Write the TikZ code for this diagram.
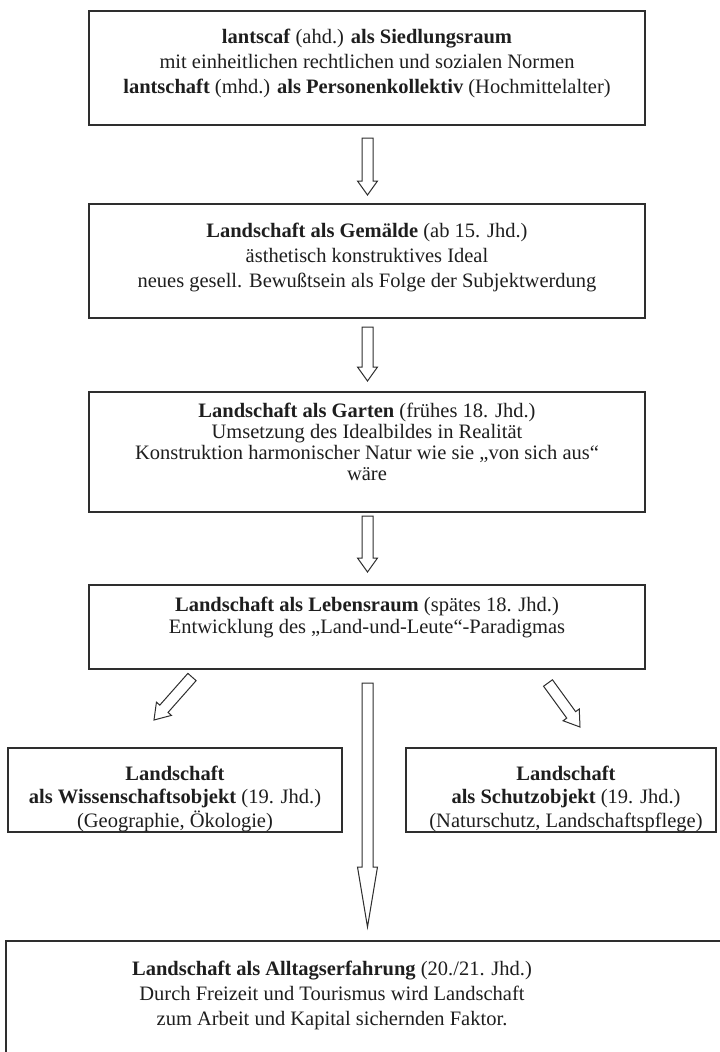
\documentclass[tikz,border=0pt]{standalone}
\usepackage{fontspec}
\setmainfont{Liberation Serif}
\usetikzlibrary{calc}
\definecolor{ink}{HTML}{1E1E1E}
\definecolor{frame}{HTML}{2E2E2E}
\tikzset{
  box/.style={draw=frame, line width=1.6pt, inner sep=0pt},
  txt/.style={align=center, text=ink, inner sep=0pt, font=\fontsize{20.5}{25}\selectfont},
  barrowline/.style={draw=frame, line width=1pt, fill=white, line join=miter},
}
\newcommand{\blockarrow}[4][10pt]{%
  \coordinate (hb) at ($(#3)!#4!(#2)$);
  \draw[barrowline] ($(#2)!5.5pt!90:(#3)$) -- ($(hb)!5.5pt!-90:(#2)$) -- ($(hb)!#1!-90:(#2)$) -- (#3) -- ($(hb)!#1!90:(#2)$) -- ($(hb)!5.5pt!90:(#2)$) -- ($(#2)!5.5pt!-90:(#3)$) -- cycle;
}
\begin{document}
\begin{tikzpicture}[x=1pt,y=-1pt]
\useasboundingbox (0,0) rectangle (720,1052);

% box 1
\node[box, minimum width=556, minimum height=114] (b1) at (367,68) {};
\node[txt] (t1) at (367,63) {\textbf{lantscaf} (ahd.) \textbf{als Siedlungsraum}\\mit einheitlichen rechtlichen und sozialen Normen\\\textbf{lantschaft} (mhd.) \textbf{als Personenkollektiv} (Hochmittelalter)};

% box 2
\node[box, minimum width=556, minimum height=114] (b2) at (367,261) {};
\node[txt] (t2) at (367,257) {\textbf{Landschaft als Gemälde} (ab 15. Jhd.)\\ästhetisch konstruktives Ideal\\neues gesell. Bewußtsein als Folge der Subjektwerdung};

% box 3
\node[box, minimum width=556, minimum height=120] (b3) at (367,452) {};
\node[txt, font=\fontsize{20.5}{21}\selectfont] (t3) at (367,441.5) {\textbf{Landschaft als Garten} (frühes 18. Jhd.)\\Umsetzung des Idealbildes in Realität\\Konstruktion harmonischer Natur wie sie „von sich aus“\\wäre};

% box 4
\node[box, minimum width=556, minimum height=84] (b4) at (367,627) {};
\node[txt, font=\fontsize{20.5}{22}\selectfont] (t4) at (367,617) {\textbf{Landschaft als Lebensraum} (spätes 18. Jhd.)\\Entwicklung des „Land-und-Leute“-Paradigmas};

% side boxes
\node[box, minimum width=334, minimum height=84] (bl) at (175,790) {};
\node[txt, font=\fontsize{20.5}{23.5}\selectfont] (tl) at (175,798.5) {\textbf{Landschaft}\\\textbf{als Wissenschaftsobjekt} (19. Jhd.)\\(Geographie, Ökologie)};
\node[box, minimum width=310, minimum height=84] (br) at (561,790) {};
\node[txt, font=\fontsize{20.5}{23.5}\selectfont] (tr) at (566,798.5) {\textbf{Landschaft}\\\textbf{als Schutzobjekt} (19. Jhd.)\\(Naturschutz, Landschaftspflege)};

% bottom box (open to the lower and right edges)
\draw[box] (6,1052.5) -- (6,941) -- (720.5,941);
\node[txt] (tb) at (332,995) {\textbf{Landschaft als Alltagserfahrung} (20./21. Jhd.)\\Durch Freizeit und Tourismus wird Landschaft\\zum Arbeit und Kapital sichernden Faktor.};

% block arrows
\coordinate (a1s) at (367.5,138); \coordinate (a1e) at (367.5,195);
\blockarrow{a1s}{a1e}{14pt}
\coordinate (a2s) at (367.5,327); \coordinate (a2e) at (367.5,381);
\blockarrow{a2s}{a2e}{14pt}
\coordinate (a3s) at (367.5,516); \coordinate (a3e) at (367.5,572);
\blockarrow{a3s}{a3e}{14pt}
\coordinate (als) at (192,677); \coordinate (ale) at (154,720);
\blockarrow{als}{ale}{15pt}
\coordinate (ars) at (548,683); \coordinate (are) at (580,727);
\blockarrow{ars}{are}{15pt}
\coordinate (acs) at (367.5,683); \coordinate (ace) at (367.5,927);
\blockarrow{acs}{ace}{60pt}
\end{tikzpicture}
\end{document}
